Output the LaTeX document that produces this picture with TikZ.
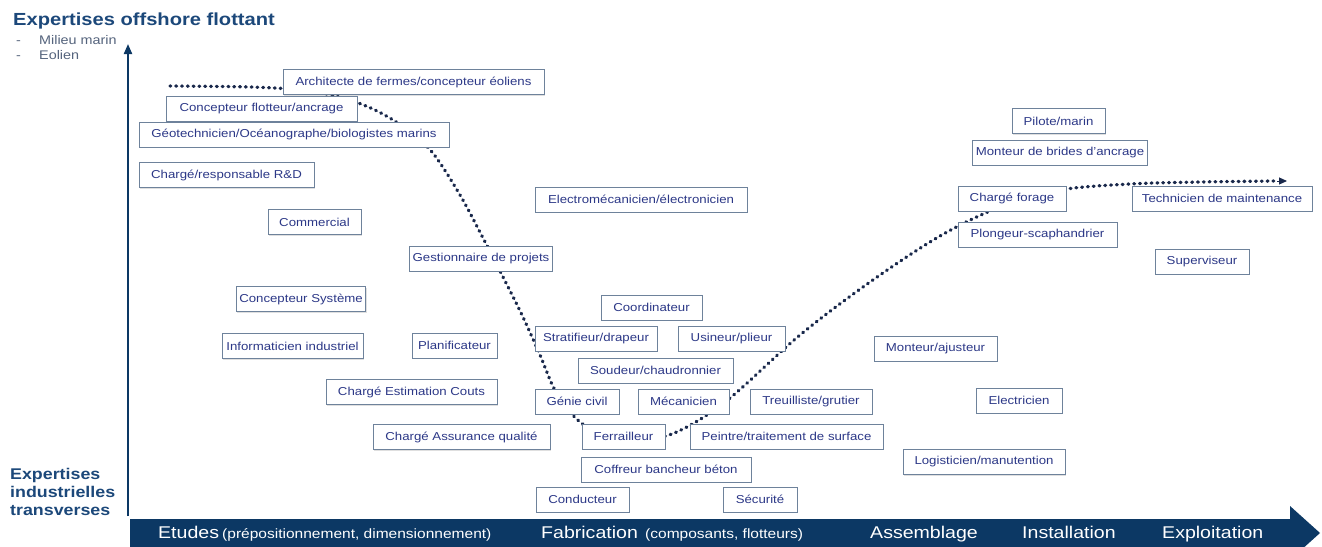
\documentclass[tikz,border=0pt]{standalone}
\usepackage{fontspec}
\setmainfont{Liberation Sans}[FakeStretch=1.15]
\usetikzlibrary{arrows.meta,shadows}
\definecolor{navy}{RGB}{12,56,100}
\definecolor{boxline}{RGB}{110,130,155}
\definecolor{boxtext}{RGB}{44,56,135}
\definecolor{hdr}{RGB}{28,72,122}
\definecolor{subt}{RGB}{85,100,125}
\definecolor{dots}{RGB}{25,40,75}
\begin{document}
\begin{tikzpicture}[x=1pt,y=-1pt,
  box/.style={draw=boxline, line width=1pt, fill=white, text=boxtext,
    font=\fontsize{11.5}{13}\selectfont, minimum height=25pt, inner xsep=3pt, inner ysep=0pt,
    drop shadow={shadow xshift=1pt, shadow yshift=-1pt, opacity=0.25, fill=gray}},
  curvestyle/.style={draw=dots, line width=3.3pt, dash pattern=on 0.8pt off 5pt, line cap=round},
  bandtxt/.style={text=white, anchor=base west, inner sep=0pt},
  big/.style={font=\fontsize{17}{19}\selectfont},
  small/.style={font=\fontsize{13.5}{15}\selectfont},
  sub/.style={text=subt, font=\fontsize{12.5}{14}\selectfont, anchor=base west, inner sep=0pt},
  hd/.style={text=hdr, font=\bfseries\fontsize{17.5}{18}\selectfont, inner sep=0pt}]
\useasboundingbox (0,0) rectangle (1322,546);
\clip (0,0) rectangle (1322,546);
\fill[white] (0,0) rectangle (1322,546);

% headers
\node[hd, anchor=base west] (h1) at (13,25) {Expertises offshore flottant};
\node[sub] (d1) at (16,44) {-};
\node[sub] (m1) at (39,44) {Milieu marin};
\node[sub] (d2) at (16,59) {-};
\node[sub] (m2) at (39,59) {Eolien};
\node[hd, anchor=north west, align=left, font=\bfseries\fontsize{15.5}{18}\selectfont] (h2) at (10,468) {Expertises\\industrielles\\transverses};

% axes
\coordinate (ax0) at (128,516);
\coordinate (ax1) at (128,44);
\draw[navy, line width=2pt, -{Triangle[length=10pt,width=8pt]}] (ax0) -- (ax1);
\fill[navy] (130,519) -- (1290,519) -- (1290,506) -- (1320,533) -- (1290,560) -- (130,560) -- cycle;

\node[bandtxt, big] (t1) at (158,538) {Etudes};
\node[bandtxt, small] (t1b) at (222,538) {(prépositionnement, dimensionnement)};
\node[bandtxt, big] (t2) at (541,538) {Fabrication};
\node[bandtxt, small] (t2b) at (645,538) {(composants, flotteurs)};
\node[bandtxt, big] (t3) at (870,538) {Assemblage};
\node[bandtxt, big] (t4) at (1022,538) {Installation};
\node[bandtxt, big] (t5) at (1162,538) {Exploitation};

% dotted curve
\coordinate (p1) at (170,86);
\coordinate (p2) at (250,87);
\coordinate (p3) at (300,90);
\coordinate (p4) at (340,97);
\coordinate (p5) at (375,110);
\coordinate (p6) at (405,128);
\coordinate (p7) at (432,152);
\coordinate (p8) at (460,195);
\coordinate (p9) at (483,238);
\coordinate (p10) at (502,275);
\coordinate (p11) at (522,315);
\coordinate (p12) at (540,355);
\coordinate (p13) at (556,392);
\coordinate (p14) at (580,422);
\coordinate (p15) at (615,440);
\coordinate (p16) at (650,440);
\coordinate (p17) at (685,428);
\coordinate (p18) at (730,398);
\coordinate (p19) at (800,335);
\coordinate (p20) at (870,282);
\coordinate (p21) at (940,236);
\coordinate (p22) at (1000,207);
\coordinate (p23) at (1060,190);
\coordinate (p24) at (1130,184);
\coordinate (p25) at (1200,182);
\coordinate (p26) at (1277,181);
\draw[curvestyle] plot[smooth, tension=0.55] coordinates {(p1) (p2) (p3) (p4) (p5) (p6) (p7) (p8) (p9) (p10) (p11) (p12) (p13) (p14) (p15) (p16) (p17) (p18) (p19) (p20) (p21) (p22) (p23) (p24) (p25) (p26)};
\coordinate (p27) at (1287,181);
\draw[dots, line width=1pt, -{Triangle[length=8pt,width=7pt]}] (p26) -- (p27);

% boxes
\node[box, minimum width=261] (b1) at (413.5,82) {Architecte de fermes/concepteur éoliens};
\node[box, minimum width=191] (b2) at (261.5,108.5) {Concepteur flotteur/ancrage};
\node[box, minimum width=310] (b3) at (294,134.5) {Géotechnicien/Océanographe/biologistes marins};
\node[box, minimum width=175] (b4) at (226.5,175) {Chargé/responsable R\&D};
\node[box, minimum width=93] (b5) at (314.5,222) {Commercial};
\node[box, minimum width=212] (b6) at (641,199.5) {Electromécanicien/électronicien};
\node[box, minimum width=138] (b7) at (481,258.5) {Gestionnaire de projets};
\node[box, minimum width=120] (b8) at (301,299) {Concepteur Système};
\node[box, minimum width=141] (b9) at (292.5,346) {Informaticien industriel};
\node[box, minimum width=85] (b10) at (454.5,345.5) {Planificateur};
\node[box, minimum width=101] (b11) at (651.5,307.5) {Coordinateur};
\node[box, minimum width=122] (b12) at (596,338.5) {Stratifieur/drapeur};
\node[box, minimum width=107] (b13) at (731.5,338.5) {Usineur/plieur};
\node[box, minimum width=155] (b14) at (655.5,370.5) {Soudeur/chaudronnier};
\node[box, minimum width=171] (b15) at (411.5,392) {Chargé Estimation Couts};
\node[box, minimum width=84] (b16) at (577,401.5) {Génie civil};
\node[box, minimum width=91] (b17) at (683.5,401.5) {Mécanicien};
\node[box, minimum width=122] (b18) at (811,401.5) {Treuilliste/grutier};
\node[box, minimum width=177] (b19) at (461.5,437) {Chargé Assurance qualité};
\node[box, minimum width=83] (b20) at (623.5,436.5) {Ferrailleur};
\node[box, minimum width=193] (b21) at (786.5,436.5) {Peintre/traitement de surface};
\node[box, minimum width=170] (b22) at (666,469.5) {Coffreur bancheur béton};
\node[box, minimum width=93] (b23) at (582.5,499.5) {Conducteur};
\node[box, minimum width=74] (b24) at (760,499.5) {Sécurité};
\node[box, minimum width=93] (b25) at (1058.5,121) {Pilote/marin};
\node[box, minimum width=166] (b26) at (1060,152.5) {Monteur de brides d'ancrage};
\node[box, minimum width=108] (b27) at (1012,198.5) {Chargé forage};
\node[box, minimum width=180] (b28) at (1222,198.5) {Technicien de maintenance};
\node[box, minimum width=159] (b29) at (1037.5,234.5) {Plongeur-scaphandrier};
\node[box, minimum width=94] (b30) at (1202,261.5) {Superviseur};
\node[box, minimum width=123] (b31) at (935.5,348.5) {Monteur/ajusteur};
\node[box, minimum width=86] (b32) at (1019,400.5) {Electricien};
\node[box, minimum width=162] (b33) at (984,462) {Logisticien/manutention};
\end{tikzpicture}
\end{document}
